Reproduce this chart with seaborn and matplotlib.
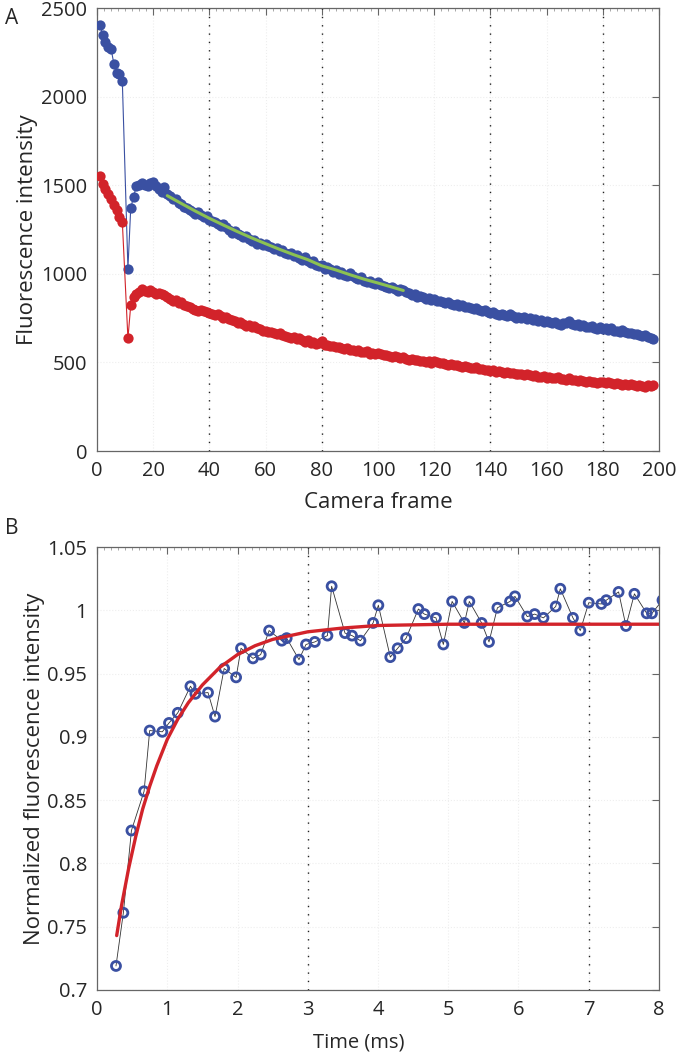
import numpy as np
import pandas as pd
import matplotlib
matplotlib.use("Agg")
import matplotlib.pyplot as plt
import seaborn as sns
from matplotlib.ticker import FormatStrFormatter, MultipleLocator

# ---- Panel A data: fluorescence per camera frame ----
pre_frames = [1, 2, 3, 4, 5, 6, 7, 8, 9]
blue_pre = [2405, 2350, 2310, 2280, 2270, 2185, 2135, 2125, 2090]
red_pre = [1550, 1505, 1480, 1450, 1420, 1390, 1360, 1320, 1295]

bleach_frame = 11
blue_bleach = 1030
red_bleach = 635

post_first = 12
blue_post = [
    1371, 1433, 1497, 1503, 1510, 1500, 1496, 1515, 1521, 1498,
    1478, 1460, 1488, 1452, 1437, 1425, 1420, 1402, 1395, 1378,
    1372, 1362, 1350, 1340, 1348, 1330, 1318, 1325, 1306, 1296,
    1292, 1283, 1270, 1281, 1262, 1250, 1232, 1242, 1225, 1220,
    1205, 1215, 1198, 1185, 1192, 1168, 1176, 1162, 1170, 1155,
    1150, 1140, 1148, 1128, 1135, 1120, 1110, 1118, 1098, 1105,
    1088, 1078, 1094, 1070, 1062, 1075, 1050, 1042, 1048, 1030,
    1038, 1025, 1012, 1020, 1000, 1012, 995, 990, 1002, 985,
    975, 968, 980, 960, 955, 962, 948, 940, 952, 935,
    930, 928, 918, 925, 912, 905, 915, 908, 895, 890,
    880, 885, 872, 876, 868, 860, 865, 852, 856, 845,
    848, 840, 836, 842, 830, 825, 828, 818, 822, 812,
    815, 808, 800, 805, 795, 790, 794, 786, 780, 784,
    776, 770, 775, 768, 762, 772, 760, 752, 758, 750,
    755, 745, 748, 740, 744, 736, 740, 730, 735, 728,
    722, 730, 718, 712, 720, 725, 735, 718, 712, 715,
    708, 710, 702, 698, 705, 694, 690, 702, 688, 695,
    685, 692, 680, 676, 672, 682, 670, 664, 668, 660,
    662, 655, 650, 652, 645, 640, 632,
]
red_post = [
    822, 872, 885, 900, 914, 905, 898, 910, 895, 888,
    892, 885, 880, 870, 860, 844, 850, 835, 840, 825,
    818, 810, 802, 797, 792, 795, 788, 782, 779, 772,
    768, 774, 760, 752, 758, 745, 740, 735, 722, 728,
    715, 708, 712, 700, 705, 692, 688, 675, 680, 670,
    672, 665, 660, 668, 655, 650, 645, 640, 642, 632,
    635, 628, 615, 625, 610, 618, 605, 612, 619, 600,
    598, 590, 595, 585, 588, 580, 576, 582, 572, 570,
    565, 568, 560, 556, 562, 550, 553, 548, 553, 545,
    540, 542, 535, 530, 536, 528, 524, 530, 520, 515,
    518, 512, 515, 508, 510, 502, 506, 498, 506, 500,
    495, 498, 490, 485, 492, 483, 487, 480, 476, 482,
    474, 470, 466, 472, 462, 465, 458, 455, 450, 456,
    448, 452, 445, 440, 446, 438, 442, 435, 432, 436,
    430, 433, 428, 425, 430, 420, 418, 422, 412, 415,
    410, 412, 418, 405, 408, 402, 410, 398, 400, 396,
    398, 393, 390, 395, 388, 392, 385, 390, 387, 384,
    388, 382, 378, 384, 380, 375, 378, 372, 376, 370,
    368, 374, 366, 362, 370, 365, 372,
]

# green fit over the blue trace (frames 25-109)
fit_a_frames = [25, 30, 35, 40, 45, 50, 55, 60, 65, 70, 75, 80, 85, 90, 95, 100, 105, 109]
fit_a_values = [1441, 1397, 1354, 1313, 1275, 1238, 1203, 1170, 1138, 1108, 1080,
                1045, 1022, 995, 970, 948, 925, 906]

# ---- Panel B data: normalized recovery ----
time_ms = [0.27, 0.375, 0.49, 0.67, 0.75, 0.93, 1.025, 1.15, 1.33, 1.40, 1.58, 1.68,
           1.81, 1.98, 2.05, 2.22, 2.33, 2.45, 2.63, 2.70, 2.875, 2.975, 3.10, 3.28,
           3.34, 3.53, 3.63, 3.75, 3.93, 4.005, 4.175, 4.28, 4.40, 4.575, 4.66, 4.825,
           4.93, 5.055, 5.23, 5.30, 5.475, 5.58, 5.70, 5.88, 5.95, 6.125, 6.23, 6.355,
           6.53, 6.595, 6.775, 6.88, 7.00, 7.18, 7.25, 7.425, 7.53, 7.65, 7.825, 7.90,
           8.05]
norm_int = [0.719, 0.761, 0.826, 0.857, 0.905, 0.904, 0.911, 0.919, 0.940, 0.934,
            0.935, 0.916, 0.954, 0.947, 0.970, 0.962, 0.965, 0.984, 0.976, 0.978,
            0.961, 0.973, 0.975, 0.980, 1.019, 0.982, 0.980, 0.976, 0.990, 1.004,
            0.963, 0.970, 0.978, 1.001, 0.997, 0.994, 0.973, 1.007, 0.990, 1.007,
            0.990, 0.975, 1.002, 1.007, 1.011, 0.995, 0.997, 0.994, 1.003, 1.017,
            0.994, 0.984, 1.006, 1.005, 1.008, 1.0145, 0.9876, 1.013, 0.9976, 0.9976,
            1.008]

fit_b_time = [0.28, 0.35, 0.45, 0.55, 0.65, 0.75, 0.85, 1.0, 1.15, 1.3, 1.5, 1.75,
              2.0, 2.25, 2.5, 3.0, 3.5, 4.0, 5.0, 6.0, 8.0]
fit_b_values = [0.743, 0.767, 0.796, 0.821, 0.843, 0.861, 0.877, 0.898, 0.914, 0.927,
                0.941, 0.955, 0.965, 0.972, 0.977, 0.983, 0.986, 0.988, 0.989, 0.989,
                0.989]

# ---- build tables ----
frames = pre_frames + [bleach_frame] + list(range(post_first, post_first + len(blue_post)))
df_a = pd.DataFrame({
    "frame": frames,
    "blue": blue_pre + [blue_bleach] + blue_post,
    "red": red_pre + [red_bleach] + red_post,
})
df_fit_a = pd.DataFrame({"frame": fit_a_frames, "value": fit_a_values})
df_b = pd.DataFrame({"time": time_ms, "value": norm_int})
df_fit_b = pd.DataFrame({"time": fit_b_time, "value": fit_b_values})

BLUE = "#3a50a2"
RED = "#d2232a"
GREEN = "#8cc152"
SPINE = "#666666"

sns.set_style("white")
plt.rcParams["font.family"] = ["Open Sans", "DejaVu Sans"]

fig = plt.figure(figsize=(6.77, 10.56), dpi=100)
ax_a = fig.add_axes([0.1433, 0.5729, 0.8301, 0.4195])
ax_b = fig.add_axes([0.1433, 0.0625, 0.8301, 0.4195])


def matlab_axes(ax, minor_step):
    for s in ax.spines.values():
        s.set_color(SPINE)
        s.set_linewidth(0.9)
    ax.tick_params(axis="both", which="major", direction="in", length=5, width=0.8,
                   color=SPINE, top=True, right=True, labelsize=14.5, pad=7)
    ax.xaxis.set_minor_locator(MultipleLocator(minor_step))
    ax.tick_params(axis="x", which="minor", direction="in", length=2, width=0.6,
                   color="#999999", top=True, bottom=False)
    ax.grid(True, which="major", color="#eeeeee", linestyle=":", linewidth=0.8)


# --- Panel A ---
for col, color in [("blue", BLUE), ("red", RED)]:
    sns.lineplot(data=df_a, x="frame", y=col, ax=ax_a, color=color, linewidth=0.8,
                 marker="o", markersize=7.4, markeredgewidth=0, sort=False,
                 estimator=None, zorder=3)
sns.lineplot(data=df_fit_a, x="frame", y="value", ax=ax_a, color=GREEN,
             linewidth=2.2, zorder=4)
for xv in [40, 80, 140, 180]:
    ax_a.axvline(xv, color="#222222", linestyle=(0, (1, 5)), linewidth=1.0, zorder=1)

ax_a.set_xlim(0, 200)
ax_a.set_ylim(0, 2500)
ax_a.set_xticks(range(0, 201, 20))
ax_a.set_yticks(range(0, 2501, 500))
matlab_axes(ax_a, 2.5)
ax_a.set_xlabel("Camera frame", fontsize=16, labelpad=8)
ax_a.set_ylabel("Fluorescence intensity", fontsize=16, labelpad=2)

# --- Panel B ---
sns.lineplot(data=df_b, x="time", y="value", ax=ax_b, color="#333333", linewidth=0.6,
             sort=False, estimator=None, zorder=3)
ax_b.scatter(df_b["time"], df_b["value"], s=42, facecolors="none", edgecolors=BLUE,
             linewidths=2.0, zorder=4, clip_on=True)
sns.lineplot(data=df_fit_b, x="time", y="value", ax=ax_b, color=RED, linewidth=2.4,
             zorder=5)
for xv in [3, 7]:
    ax_b.axvline(xv, color="#222222", linestyle=(0, (1, 5)), linewidth=1.0, zorder=1)

ax_b.set_xlim(0, 8)
ax_b.set_ylim(0.7, 1.05)
ax_b.set_xticks(range(0, 9))
ax_b.set_yticks(np.arange(0.7, 1.051, 0.05))
ax_b.yaxis.set_major_formatter(FormatStrFormatter("%g"))
matlab_axes(ax_b, 0.1)
ax_b.set_xlabel("Time (ms)", fontsize=14.5)
ax_b.xaxis.set_label_coords(0.465, -0.095)
ax_b.set_ylabel("Normalized fluorescence intensity", fontsize=16, labelpad=2)

fig.text(0.008, 0.977, "A", fontsize=15)
fig.text(0.008, 0.494, "B", fontsize=15)

fig.savefig("out.png", dpi=100)
plt.close(fig)
